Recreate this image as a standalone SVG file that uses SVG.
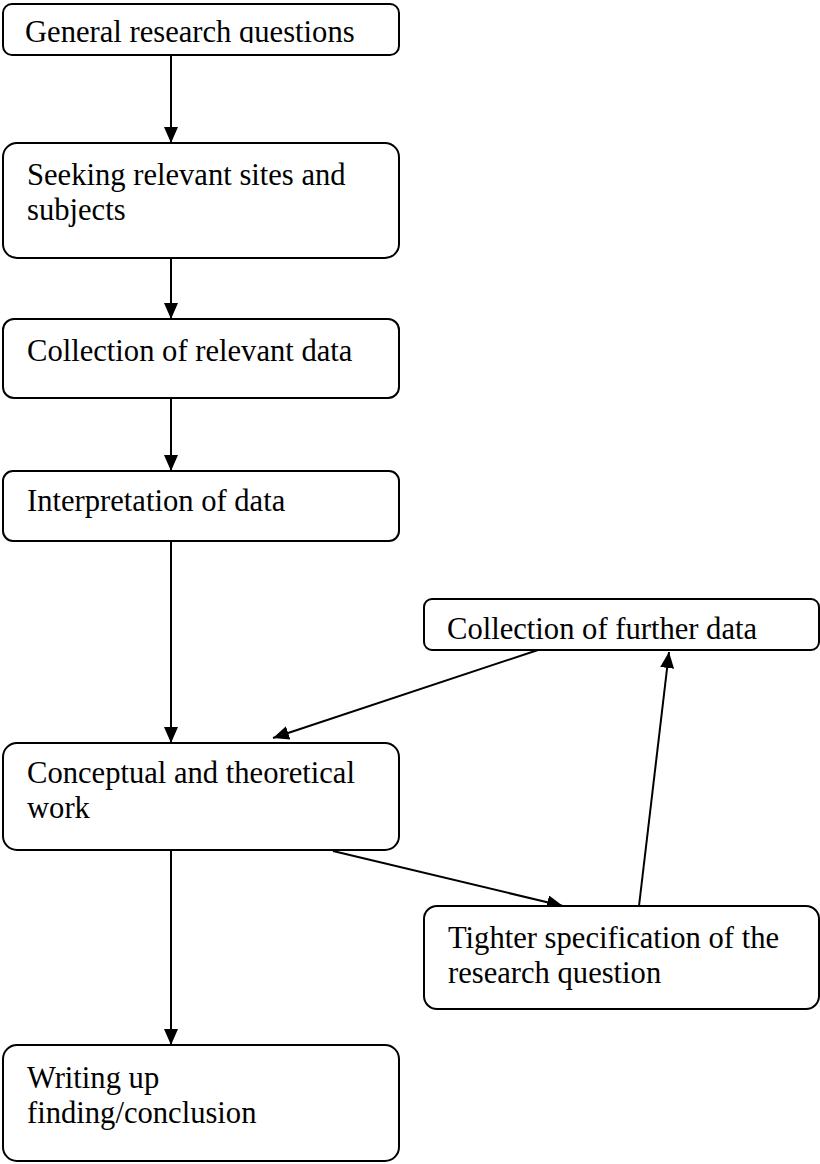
<svg xmlns="http://www.w3.org/2000/svg" width="820" height="1164" viewBox="0 0 820 1164">
  <defs>
    <style>
      .box { fill: #ffffff; stroke: #000000; stroke-width: 2; }
      .label { font-family: "Liberation Serif", "Times New Roman", serif; font-size: 30.6px; fill: #000000; }
      .edge { stroke: #000000; stroke-width: 2; fill: none; marker-end: url(#arrow); }
    </style>
    <marker id="arrow" viewBox="0 0 16 14" refX="16" refY="7" markerWidth="16" markerHeight="14" markerUnits="userSpaceOnUse" orient="auto">
      <path d="M0,0 L16,7 L0,14 Z" fill="#000000"/>
    </marker>
    <!-- the first text box crops its line just below the baseline -->
    <clipPath id="clip-general">
      <rect x="4" y="4" width="394" height="39"/>
    </clipPath>
  </defs>

  <rect width="820" height="1164" fill="#ffffff"/>

  <g id="connectors">
    <line class="edge" x1="171" y1="55" x2="171" y2="143"/>
    <line class="edge" x1="171" y1="258" x2="171" y2="319"/>
    <line class="edge" x1="171" y1="398" x2="171" y2="471"/>
    <line class="edge" x1="171" y1="541" x2="171" y2="743"/>
    <line class="edge" x1="171" y1="850" x2="171" y2="1045"/>
    <line class="edge" x1="538" y1="650" x2="273" y2="738"/>
    <line class="edge" x1="333" y1="851" x2="563" y2="906"/>
    <line class="edge" x1="639" y1="906" x2="669" y2="652"/>
  </g>

  <g id="node-general">
    <rect class="box" x="3" y="4" width="396" height="51" rx="9"/>
    <text class="label" x="25" y="42" clip-path="url(#clip-general)">General research questions</text>
  </g>

  <g id="node-seeking">
    <rect class="box" x="3" y="143" width="396" height="115" rx="14"/>
    <text class="label" x="27" y="185">Seeking relevant sites and</text>
    <text class="label" x="27" y="220">subjects</text>
  </g>

  <g id="node-collection">
    <rect class="box" x="3" y="319" width="396" height="79" rx="11"/>
    <text class="label" x="27" y="361">Collection of relevant data</text>
  </g>

  <g id="node-interpretation">
    <rect class="box" x="3" y="471" width="396" height="70" rx="10"/>
    <text class="label" x="27" y="511">Interpretation of data</text>
  </g>

  <g id="node-further">
    <rect class="box" x="424" y="599" width="395" height="51" rx="8"/>
    <text class="label" x="447" y="639">Collection of further data</text>
  </g>

  <g id="node-conceptual">
    <rect class="box" x="3" y="743" width="396" height="107" rx="14"/>
    <text class="label" x="27" y="783">Conceptual and theoretical</text>
    <text class="label" x="27" y="818">work</text>
  </g>

  <g id="node-tighter">
    <rect class="box" x="424" y="906" width="395" height="103" rx="13"/>
    <text class="label" x="448" y="948">Tighter specification of the</text>
    <text class="label" x="448" y="983">research question</text>
  </g>

  <g id="node-writing">
    <rect class="box" x="3" y="1045" width="396" height="116" rx="14"/>
    <text class="label" x="27" y="1088">Writing up</text>
    <text class="label" x="27" y="1123">finding/conclusion</text>
  </g>
</svg>
